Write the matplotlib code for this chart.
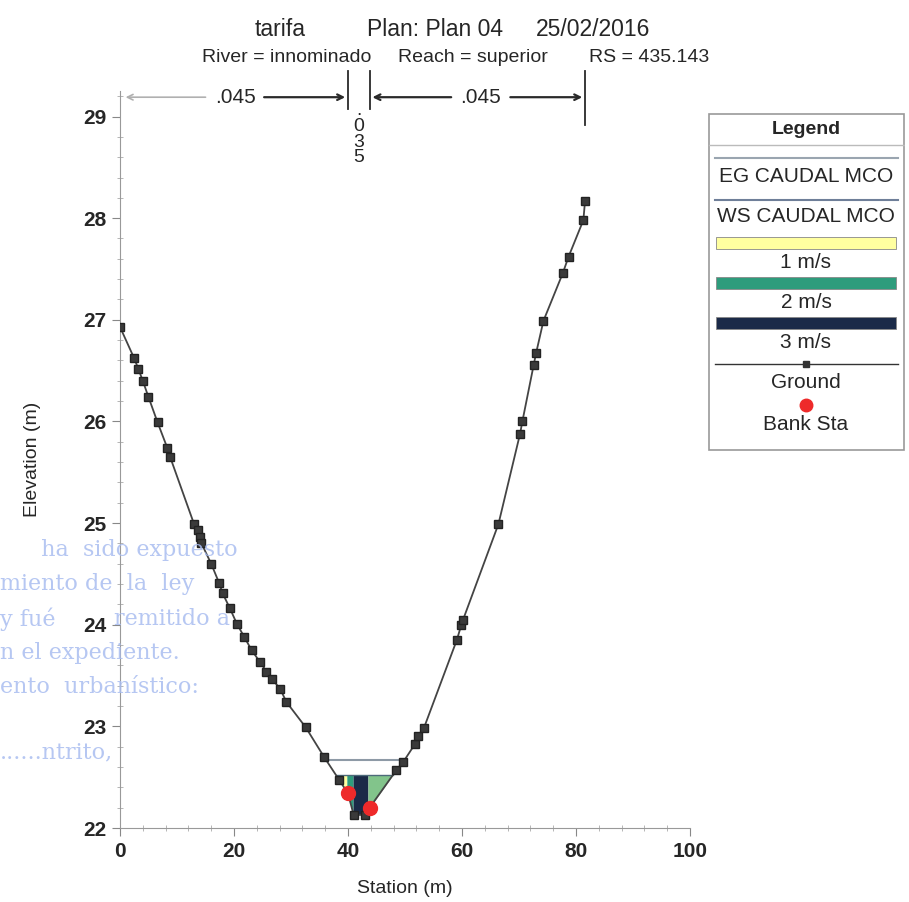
import matplotlib
matplotlib.use('Agg')
import matplotlib.pyplot as plt
import numpy as np
from matplotlib.colors import LinearSegmentedColormap
from matplotlib.patches import Rectangle

plt.rcParams['font.family'] = ['Liberation Sans', 'DejaVu Sans']

# ground profile (station m, elevation m)
sta = [0.0, 2.5, 3.2, 4.0, 5.0, 6.6, 8.3, 8.8, 13.0, 13.6, 14.0, 14.3, 16.0, 17.4, 18.0,
       19.3, 20.5, 21.8, 23.1, 24.6, 25.7, 26.6, 28.1, 29.2, 32.6, 35.8, 38.5, 40.0, 41.0,
       43.0, 43.8, 48.5, 49.7, 51.8, 52.3, 53.3, 59.1, 59.9, 60.2, 66.4, 70.2, 70.6, 72.6,
       73.0, 74.3, 77.7, 78.7, 81.3, 81.6]
elev = [26.93, 26.62, 26.52, 26.40, 26.24, 25.99, 25.74, 25.65, 24.99, 24.93, 24.86, 24.80,
        24.60, 24.41, 24.31, 24.16, 24.01, 23.88, 23.75, 23.63, 23.54, 23.47, 23.37, 23.24,
        22.99, 22.70, 22.47, 22.34, 22.13, 22.13, 22.20, 22.57, 22.65, 22.83, 22.91, 22.98,
        23.85, 24.00, 24.05, 24.99, 25.88, 26.00, 26.56, 26.67, 26.99, 27.46, 27.62, 27.98,
        28.17]

bank_sta = [40.0, 43.8]
ws_elev = 22.52
eg_elev = 22.67

# velocity distribution slices
slice_edges = [38.0, 39.8, 40.9, 43.5, 48.6]
slice_vel = [1.0, 2.0, 3.0, 1.6]

# manning n
n_values = ['.045', '.035', '.045']

sta = np.array(sta)
elev = np.array(elev)
vel_cmap = LinearSegmentedColormap.from_list('vel', ['#ffffa0', '#2e9c7c', '#1b2a48'])
txt = '#262626'

fig = plt.figure(figsize=(9.09, 9.02), dpi=100)
ax = fig.add_axes([0.132, 0.082, 0.627, 0.817])

# water colored by velocity
for i in range(len(slice_vel)):
    xs = np.linspace(slice_edges[i], slice_edges[i + 1], 60)
    g = np.interp(xs, sta, elev)
    c = vel_cmap((slice_vel[i] - 1.0) / 2.0)
    ax.fill_between(xs, g, ws_elev, where=g < ws_elev, color=c, lw=0, zorder=2)


def crossings(level):
    imin = np.argmin(elev)
    xl = np.interp(level, elev[:imin + 1][::-1], sta[:imin + 1][::-1])
    xr = np.interp(level, elev[imin:], sta[imin:])
    return xl, xr


xl, xr = crossings(eg_elev)
ax.plot([xl, xr], [eg_elev, eg_elev], color='#8e9aa6', lw=1.5, zorder=3)
xl, xr = crossings(ws_elev)
ax.plot([xl, xr], [ws_elev, ws_elev], color='#4d6a7a', lw=1.0, zorder=3)

ax.plot(sta, elev, color='#444444', lw=1.3, marker='s', ms=6, mfc='#3a3a3a', mec='#222222', zorder=4)
ax.plot(bank_sta, np.interp(bank_sta, sta, elev), 'o', color='#ee2a2a', ms=10, zorder=5)

ax.set_xlim(0, 100)
ax.set_ylim(22, 29.25)
ax.set_xticks([0, 20, 40, 60, 80, 100])
ax.set_xticks(np.arange(0, 101, 4), minor=True)
ax.set_yticks(np.arange(22, 30, 1))
ax.set_yticks(np.arange(22, 29.25, 0.2), minor=True)
for s in ['top', 'right']:
    ax.spines[s].set_visible(False)
for s in ['left', 'bottom']:
    ax.spines[s].set_color('#999999')
ax.tick_params(which='major', length=6, color='#888888', labelsize=15, labelcolor=txt, pad=4)
ax.tick_params(which='minor', length=4, direction='inout', color='#aaaaaa')
for lab in ax.get_xticklabels() + ax.get_yticklabels():
    lab.set_fontweight('bold')
ax.set_xlabel('Station (m)', fontsize=14, color=txt, labelpad=14)
ax.set_ylabel('Elevation (m)', fontsize=14, color=txt, labelpad=30)

# manning n annotations above the plot
ny = 29.19
ap_gray = dict(arrowstyle='->', color='#b0b0b0', lw=1.2)
ap = dict(arrowstyle='->', color='#2a2a2a', lw=1.6)
ax.annotate('', xy=(0.5, ny), xytext=(15.5, ny), arrowprops=ap_gray, annotation_clip=False)
ax.text(20.2, ny, n_values[0], ha='center', va='center', fontsize=15, color=txt)
ax.annotate('', xy=(bank_sta[0], ny), xytext=(24.8, ny), arrowprops=ap, annotation_clip=False)
ax.annotate('', xy=(bank_sta[1], ny), xytext=(58.6, ny), arrowprops=ap, annotation_clip=False)
ax.text(63.3, ny, n_values[2], ha='center', va='center', fontsize=15, color=txt)
ax.annotate('', xy=(sta[-1], ny), xytext=(68.0, ny), arrowprops=ap, annotation_clip=False)
for xb in bank_sta:
    ax.plot([xb, xb], [29.07, 29.45], color='#2a2a2a', lw=1.3, clip_on=False)
ax.plot([sta[-1], sta[-1]], [28.92, 29.45], color='#2a2a2a', lw=1.3, clip_on=False)
ax.text(sum(bank_sta) / 2, 29.14, '\n'.join(n_values[1]), ha='center', va='top',
        fontsize=14, color=txt, linespacing=0.9)

# titles
fig.text(0.308, 0.967, 'tarifa', ha='center', va='center', fontsize=16.5, color=txt)
fig.text(0.478, 0.967, 'Plan: Plan 04', ha='center', va='center', fontsize=16.5, color=txt)
fig.text(0.652, 0.967, '25/02/2016', ha='center', va='center', fontsize=16.5, color=txt)
fig.text(0.315, 0.936, 'River = innominado', ha='center', va='center', fontsize=14, color=txt)
fig.text(0.520, 0.936, 'Reach = superior', ha='center', va='center', fontsize=14, color=txt)
fig.text(0.714, 0.936, 'RS = 435.143', ha='center', va='center', fontsize=14, color=txt)

# HEC-RAS style legend box
lg = fig.add_axes([708 / 909, 1 - 452 / 902, 197 / 909, 339 / 902])
lg.set_xlim(708, 905)
lg.set_ylim(452, 113)
lg.axis('off')
lg.add_patch(Rectangle((709, 114), 195, 336, fill=False, ec='#999999', lw=1.2))
lg.plot([709, 904], [145, 145], color='#bbbbbb', lw=1)
lg.text(806, 130, 'Legend', ha='center', va='center', fontsize=14, fontweight='bold', color=txt)
lg.plot([715, 898], [158, 158], color='#9aa5b0', lw=1.5)
lg.text(806, 177, 'EG CAUDAL MCO', ha='center', va='center', fontsize=15, color=txt)
lg.plot([715, 898], [200, 200], color='#6f7f99', lw=1.5)
lg.text(806, 217, 'WS CAUDAL MCO', ha='center', va='center', fontsize=15, color=txt)
for yy, v, t in [(243, 1.0, '1 m/s'), (283, 2.0, '2 m/s'), (323, 3.0, '3 m/s')]:
    lg.add_patch(Rectangle((716, yy - 6), 180, 12, fc=vel_cmap((v - 1.0) / 2.0), ec='#888888', lw=0.6))
    lg.text(806, yy + 19, t, ha='center', va='center', fontsize=15, color=txt)
lg.plot([715, 898], [364, 364], color='#333333', lw=1)
lg.plot([806], [364], 's', ms=4, color='#333333')
lg.text(806, 383, 'Ground', ha='center', va='center', fontsize=15, color=txt)
lg.plot([806], [405], 'o', ms=9, color='#ee2a2a')
lg.text(806, 425, 'Bank Sta', ha='center', va='center', fontsize=15, color=txt)

# faint stamp text bleeding through from the scanned page (fragments keep clear of tick labels)
stamp = [('  ha  sido expuesto', 0.03, 0.390), ('miento de  la  ley', 0.0, 0.352),
         ('y fué', 0.0, 0.314), ('remitido a', 0.125, 0.314),
         ('n el expediente.', 0.0, 0.276), ('ento  urbanístico:', 0.0, 0.238),
         ('......ntrito,', 0.0, 0.166)]
for t, sx, sy in stamp:
    fig.text(sx, sy, t, fontsize=16, family='DejaVu Serif',
             color='#a9bdf0', alpha=0.85, va='center', zorder=0)

fig.savefig('out.png', dpi=100, facecolor='white')
